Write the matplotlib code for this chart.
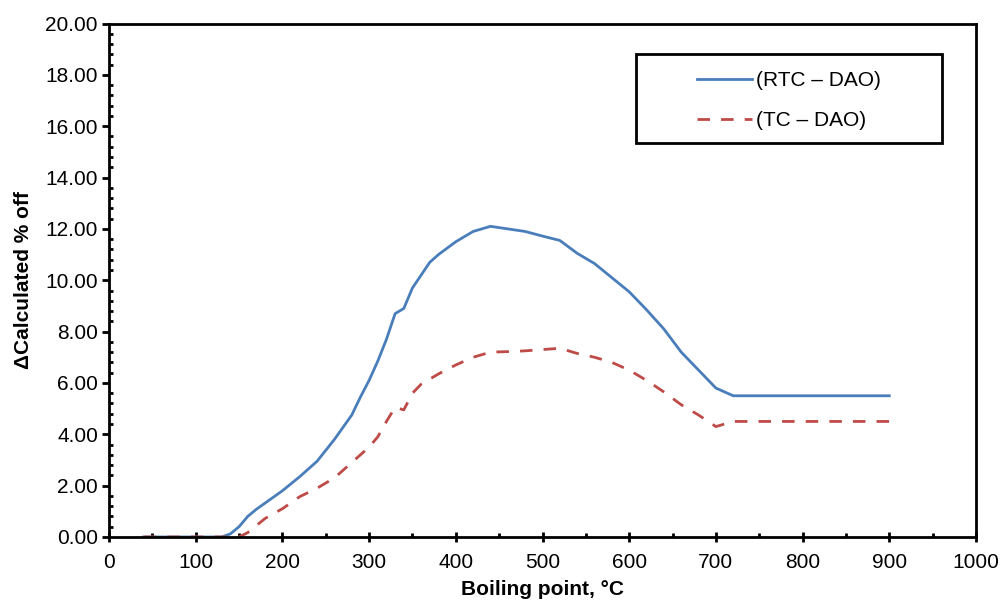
import matplotlib
matplotlib.use('Agg')
import matplotlib.pyplot as plt
from matplotlib.patches import Rectangle
from matplotlib.ticker import MultipleLocator, FormatStrFormatter

plt.rcParams['font.family'] = ['Liberation Sans', 'DejaVu Sans']

# 数据
rtc_x = [40, 100, 130, 140, 150, 160, 170, 180, 200, 220, 240, 260, 280, 290, 300,
         310, 320, 330, 340, 350, 360, 370, 380, 400, 420, 440, 450, 460, 480, 500,
         520, 540, 560, 580, 600, 620, 640, 660, 680, 700, 720, 900]
rtc_y = [0, 0, 0, 0.12, 0.4, 0.8, 1.08, 1.32, 1.8, 2.35, 2.95, 3.8, 4.75, 5.45, 6.1,
         6.85, 7.7, 8.7, 8.9, 9.7, 10.2, 10.7, 11.0, 11.5, 11.9, 12.1, 12.05, 12.0, 11.9, 11.72,
         11.55, 11.05, 10.65, 10.1, 9.55, 8.85, 8.1, 7.2, 6.5, 5.8, 5.5, 5.5]

tc_x = [40, 100, 150, 160, 180, 200, 220, 240, 260, 280, 300, 310, 320, 330, 340,
        350, 360, 380, 400, 420, 440, 460, 480, 500, 520, 540, 560, 580, 600, 620,
        640, 660, 680, 700, 720, 900]
tc_y = [0, 0, 0, 0.17, 0.72, 1.1, 1.57, 1.9, 2.3, 2.9, 3.5, 3.9, 4.5, 5.05, 4.95,
        5.6, 5.95, 6.35, 6.7, 7.0, 7.2, 7.22, 7.25, 7.3, 7.35, 7.15, 7.0, 6.8, 6.5, 6.1,
        5.65, 5.15, 4.75, 4.3, 4.5, 4.5]

labels = ['(RTC – DAO)', '(TC – DAO)']

fig = plt.figure(figsize=(10, 6.03), dpi=100)
ax = fig.add_axes([0.109, 0.1095, 0.867, 0.8515])

ax.plot(rtc_x, rtc_y, color='#4A7EBB', lw=2.0, label=labels[0])
ax.plot(tc_x, tc_y, color='#BE4B48', lw=2.0, dashes=(4.5, 4), label=labels[1])

ax.set_xlim(0, 1000)
ax.set_ylim(0, 20)
ax.xaxis.set_major_locator(MultipleLocator(100))
ax.xaxis.set_minor_locator(MultipleLocator(50))
ax.yaxis.set_major_locator(MultipleLocator(2))
ax.yaxis.set_minor_locator(MultipleLocator(0.4))
ax.yaxis.set_major_formatter(FormatStrFormatter('%.2f'))

for s in ax.spines.values():
    s.set_linewidth(2)
ax.tick_params(axis='x', which='major', direction='inout', length=7, width=2, labelsize=15, pad=8)
ax.tick_params(axis='x', which='minor', direction='in', length=3, width=2)
ax.tick_params(axis='y', which='major', direction='out', length=5, width=2, labelsize=15, pad=3)
ax.tick_params(axis='y', which='minor', direction='in', length=3, width=2)

ax.set_xlabel('Boiling point, °C', fontsize=15, fontweight='bold', labelpad=6)
ax.set_ylabel('ΔCalculated % off', fontsize=15, fontweight='bold', labelpad=9)

# 图例框
ax.add_patch(Rectangle((0.608, 0.768), 0.353, 0.172, transform=ax.transAxes,
                       fill=False, lw=2, ec='black', zorder=5))
ax.legend(loc='center', bbox_to_anchor=(0.7845, 0.850), frameon=False, fontsize=15,
          handlelength=2.65, handletextpad=0.2, labelspacing=1.0)

fig.savefig('out.png', dpi=100)
